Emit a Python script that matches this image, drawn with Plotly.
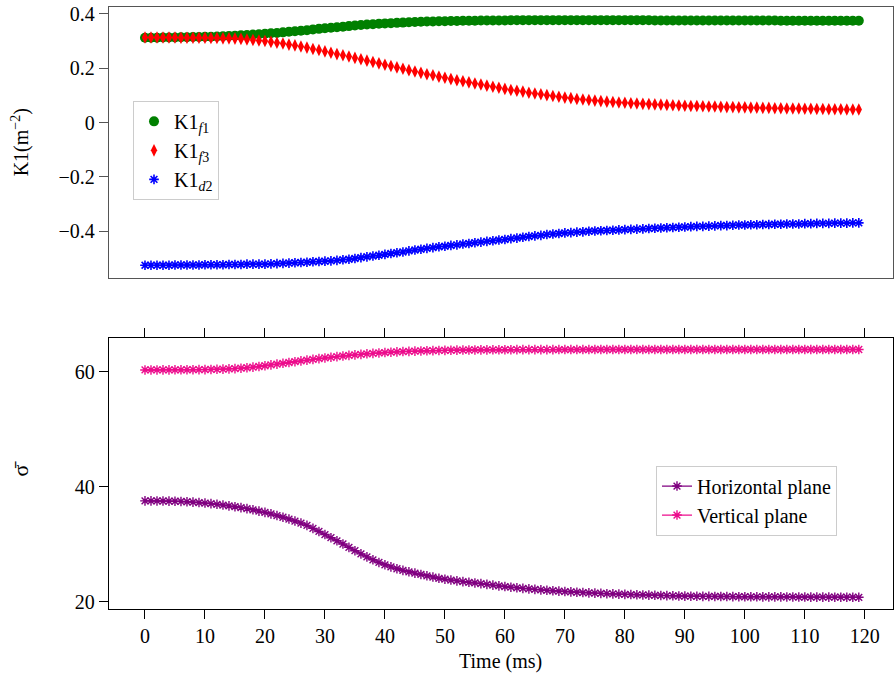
import plotly.graph_objects as go

# Time axis (ms), one sample per millisecond
time_ms = list(range(120))

# Quadrupole strengths K1 (m^-2)
k1_f1 = [
    0.312, 0.312, 0.312, 0.313, 0.313, 0.313, 0.314, 0.314, 0.315, 0.315,
    0.316, 0.316, 0.317, 0.318, 0.319, 0.320, 0.321, 0.322, 0.324, 0.325,
    0.327, 0.329, 0.330, 0.332, 0.334, 0.336, 0.338, 0.340, 0.343, 0.345,
    0.347, 0.349, 0.351, 0.353, 0.355, 0.357, 0.359, 0.361, 0.362, 0.364,
    0.365, 0.366, 0.367, 0.368, 0.369, 0.370, 0.371, 0.372, 0.372, 0.373,
    0.373, 0.374, 0.374, 0.375, 0.375, 0.375, 0.376, 0.376, 0.376, 0.376,
    0.376, 0.377, 0.377, 0.377, 0.377, 0.377, 0.377, 0.377, 0.377, 0.377,
    0.377, 0.377, 0.377, 0.377, 0.377, 0.377, 0.377, 0.377, 0.377, 0.377,
    0.377, 0.377, 0.377, 0.377, 0.377, 0.376, 0.376, 0.376, 0.376, 0.376,
    0.376, 0.376, 0.376, 0.376, 0.376, 0.376, 0.376, 0.376, 0.376, 0.376,
    0.376, 0.376, 0.376, 0.376, 0.376, 0.376, 0.375, 0.375, 0.375, 0.375,
    0.375, 0.375, 0.375, 0.375, 0.375, 0.375, 0.375, 0.375, 0.375, 0.375,
]
k1_f3 = [
    0.313, 0.313, 0.313, 0.313, 0.313, 0.313, 0.312, 0.312, 0.312, 0.312,
    0.312, 0.311, 0.311, 0.310, 0.310, 0.309, 0.308, 0.306, 0.304, 0.302,
    0.300, 0.297, 0.294, 0.291, 0.287, 0.284, 0.280, 0.276, 0.271, 0.267,
    0.262, 0.257, 0.252, 0.248, 0.243, 0.238, 0.233, 0.228, 0.223, 0.218,
    0.213, 0.208, 0.203, 0.198, 0.193, 0.188, 0.183, 0.178, 0.174, 0.169,
    0.165, 0.160, 0.156, 0.152, 0.148, 0.144, 0.140, 0.136, 0.132, 0.128,
    0.124, 0.120, 0.117, 0.114, 0.110, 0.107, 0.104, 0.101, 0.098, 0.095,
    0.092, 0.090, 0.087, 0.085, 0.083, 0.081, 0.079, 0.077, 0.076, 0.074,
    0.073, 0.071, 0.070, 0.069, 0.068, 0.067, 0.066, 0.065, 0.064, 0.063,
    0.062, 0.061, 0.061, 0.060, 0.059, 0.059, 0.058, 0.057, 0.057, 0.056,
    0.056, 0.055, 0.055, 0.054, 0.054, 0.053, 0.053, 0.052, 0.052, 0.052,
    0.051, 0.051, 0.050, 0.050, 0.049, 0.049, 0.049, 0.048, 0.048, 0.048,
]
k1_d2 = [
    -0.525, -0.525, -0.525, -0.525, -0.525, -0.524, -0.524, -0.524, -0.524, -0.524,
    -0.523, -0.523, -0.523, -0.523, -0.522, -0.522, -0.522, -0.521, -0.521, -0.521,
    -0.521, -0.520, -0.519, -0.518, -0.517, -0.516, -0.515, -0.514, -0.512, -0.511,
    -0.510, -0.509, -0.507, -0.505, -0.503, -0.500, -0.497, -0.494, -0.491, -0.488,
    -0.485, -0.482, -0.479, -0.476, -0.472, -0.469, -0.466, -0.463, -0.460, -0.457,
    -0.455, -0.452, -0.450, -0.447, -0.445, -0.442, -0.440, -0.437, -0.435, -0.432,
    -0.430, -0.427, -0.425, -0.422, -0.419, -0.417, -0.415, -0.412, -0.410, -0.408,
    -0.406, -0.405, -0.403, -0.402, -0.400, -0.399, -0.398, -0.397, -0.396, -0.395,
    -0.394, -0.393, -0.392, -0.391, -0.390, -0.389, -0.388, -0.387, -0.386, -0.385,
    -0.384, -0.383, -0.382, -0.382, -0.381, -0.380, -0.379, -0.379, -0.378, -0.377,
    -0.377, -0.376, -0.376, -0.375, -0.375, -0.374, -0.374, -0.373, -0.373, -0.373,
    -0.372, -0.372, -0.371, -0.371, -0.371, -0.370, -0.370, -0.370, -0.369, -0.369,
]

# Mean sigma in each plane
sigma_horizontal = [
    37.55, 37.55, 37.54, 37.53, 37.51, 37.49, 37.45, 37.40, 37.34, 37.26,
    37.18, 37.08, 36.96, 36.83, 36.69, 36.54, 36.38, 36.20, 36.00, 35.78,
    35.55, 35.30, 35.01, 34.71, 34.40, 34.05, 33.68, 33.30, 32.78, 32.24,
    31.70, 31.16, 30.62, 30.06, 29.48, 28.90, 28.35, 27.82, 27.32, 26.86,
    26.45, 26.08, 25.76, 25.48, 25.23, 25.01, 24.77, 24.54, 24.32, 24.10,
    23.95, 23.80, 23.66, 23.53, 23.41, 23.30, 23.17, 23.04, 22.91, 22.79,
    22.67, 22.56, 22.45, 22.36, 22.27, 22.18, 22.10, 22.02, 21.94, 21.87,
    21.80, 21.74, 21.68, 21.63, 21.58, 21.53, 21.48, 21.43, 21.39, 21.35,
    21.31, 21.28, 21.24, 21.21, 21.18, 21.15, 21.12, 21.09, 21.06, 21.03,
    21.01, 20.99, 20.98, 20.97, 20.96, 20.95, 20.94, 20.93, 20.92, 20.91,
    20.90, 20.89, 20.89, 20.88, 20.88, 20.87, 20.87, 20.86, 20.86, 20.85,
    20.85, 20.84, 20.84, 20.83, 20.83, 20.82, 20.82, 20.81, 20.81, 20.80,
]
sigma_vertical = [
    60.30, 60.30, 60.30, 60.31, 60.31, 60.32, 60.32, 60.33, 60.34, 60.35,
    60.36, 60.38, 60.41, 60.44, 60.48, 60.53, 60.60, 60.68, 60.78, 60.90,
    61.03, 61.17, 61.31, 61.45, 61.59, 61.73, 61.87, 62.00, 62.13, 62.26,
    62.38, 62.50, 62.61, 62.72, 62.82, 62.92, 63.01, 63.10, 63.18, 63.25,
    63.32, 63.38, 63.44, 63.49, 63.53, 63.57, 63.60, 63.63, 63.66, 63.68,
    63.70, 63.72, 63.74, 63.75, 63.76, 63.77, 63.78, 63.79, 63.80, 63.80,
    63.81, 63.81, 63.82, 63.82, 63.82, 63.83, 63.83, 63.83, 63.83, 63.84,
    63.84, 63.84, 63.84, 63.84, 63.84, 63.85, 63.85, 63.85, 63.85, 63.85,
    63.85, 63.85, 63.85, 63.85, 63.85, 63.85, 63.85, 63.85, 63.85, 63.85,
    63.85, 63.85, 63.85, 63.85, 63.85, 63.85, 63.85, 63.85, 63.85, 63.85,
    63.85, 63.85, 63.85, 63.85, 63.85, 63.85, 63.85, 63.85, 63.85, 63.85,
    63.85, 63.85, 63.85, 63.85, 63.85, 63.85, 63.85, 63.85, 63.85, 63.85,
]

x_ticks = [0, 10, 20, 30, 40, 50, 60, 70, 80, 90, 100, 110, 120]
k1_ticks = [-0.4, -0.2, 0, 0.2, 0.4]
k1_tick_text = ["−0.4", "−0.2", "0", "0.2", "0.4"]
sigma_ticks = [20, 40, 60]

W, H = 894, 683
FONT = "Liberation Serif"
FS = 20

fig = go.Figure()

# Upper panel: quadrupole strengths
fig.add_trace(go.Scatter(
    x=time_ms, y=k1_f1, mode="markers", name="K1<sub><i>f</i>1</sub>",
    marker=dict(symbol="circle", size=10, color="#008000", line=dict(width=0)),
    xaxis="x", yaxis="y", legend="legend"))
fig.add_trace(go.Scatter(
    x=time_ms, y=k1_f3, mode="markers", name="K1<sub><i>f</i>3</sub>",
    marker=dict(symbol="diamond-tall", size=9, color="#ff0000", line=dict(width=0)),
    xaxis="x", yaxis="y", legend="legend"))
fig.add_trace(go.Scatter(
    x=time_ms, y=k1_d2, mode="markers", name="K1<sub><i>d</i>2</sub>",
    marker=dict(symbol="asterisk-open", size=8, color="#0000ff",
                line=dict(width=1.6, color="#0000ff")),
    xaxis="x", yaxis="y", legend="legend"))

# Lower panel: sigma per plane
fig.add_trace(go.Scatter(
    x=time_ms, y=sigma_horizontal, mode="lines+markers", name="Horizontal plane",
    line=dict(color="#800080", width=1.3),
    marker=dict(symbol="asterisk-open", size=8, line=dict(width=1.4, color="#800080")),
    xaxis="x2", yaxis="y2", legend="legend2"))
fig.add_trace(go.Scatter(
    x=time_ms, y=sigma_vertical, mode="lines+markers", name="Vertical plane",
    line=dict(color="#ec0c8c", width=1.3),
    marker=dict(symbol="asterisk-open", size=8, line=dict(width=1.4, color="#ec0c8c")),
    xaxis="x2", yaxis="y2", legend="legend2"))

x_dom = [109 / W, 893 / W]
top_dom = [1 - 277 / H, 1 - 3 / H]
bot_dom = [1 - 612 / H, 1 - 338 / H]
x_range = [-6, 124.7]

tick_font = dict(family=FONT, size=FS, color="black")
top_line = "#555555"

fig.update_layout(
    width=W, height=H,
    margin=dict(l=0, r=0, t=0, b=0),
    paper_bgcolor="white", plot_bgcolor="white",
    font=dict(family=FONT, size=FS, color="black"),
    xaxis=dict(domain=x_dom, range=x_range, anchor="y",
               showticklabels=False, ticks="", showgrid=False, zeroline=False,
               showline=True, linecolor=top_line, linewidth=1.3, mirror=True),
    yaxis=dict(domain=top_dom, range=[-0.571, 0.4255], anchor="x",
               tickvals=k1_ticks, ticktext=k1_tick_text, ticklabeloverflow="allow",
               ticks="outside", ticklen=9, tickwidth=1.2,
               tickcolor=top_line, tickfont=tick_font, showgrid=False, zeroline=False,
               showline=True, linecolor=top_line, linewidth=1.3, mirror=True),
    xaxis2=dict(domain=x_dom, range=x_range, anchor="y2",
                tickvals=x_ticks, ticklabeloverflow="allow",
                ticks="outside", ticklen=9, tickwidth=1.2,
                tickcolor="black", tickfont=tick_font, showgrid=False, zeroline=False,
                showline=True, linecolor="black", linewidth=1.3, mirror="allticks"),
    yaxis2=dict(domain=bot_dom, range=[18.8, 65.84], anchor="x2",
                tickvals=sigma_ticks, ticklabeloverflow="allow",
                ticks="outside", ticklen=9, tickwidth=1.2,
                tickcolor="black", tickfont=tick_font, showgrid=False, zeroline=False,
                showline=True, linecolor="black", linewidth=1.3, mirror=True),
    legend=dict(x=133 / W, y=1 - 98 / H, xanchor="left", yanchor="top",
                bgcolor="white", bordercolor="#cccccc", borderwidth=1,
                font=dict(family=FONT, size=FS), itemwidth=30,
                tracegroupgap=0),
    legend2=dict(x=656 / W, y=1 - 467 / H, xanchor="left", yanchor="top",
                 bgcolor="white", bordercolor="#cccccc", borderwidth=1,
                 font=dict(family=FONT, size=FS), itemwidth=30,
                 tracegroupgap=0),
    annotations=[
        dict(text="K1(m<sup>−2</sup>)", x=20 / W, y=1 - 140 / H, xref="paper", yref="paper",
             xanchor="center", yanchor="middle",
             textangle=-90, showarrow=False, font=dict(family=FONT, size=FS)),
        dict(text="σ\u0304", x=20 / W, y=1 - 470 / H, xref="paper", yref="paper",
             xanchor="center", yanchor="middle",
             textangle=-90, showarrow=False, font=dict(family=FONT, size=FS + 2)),
        dict(text="Time (ms)", x=500 / W, y=1 - 665 / H, xref="paper", yref="paper",
             xanchor="center", yanchor="middle",
             showarrow=False, font=dict(family=FONT, size=FS)),
    ],
)

fig.write_html("out.html")
